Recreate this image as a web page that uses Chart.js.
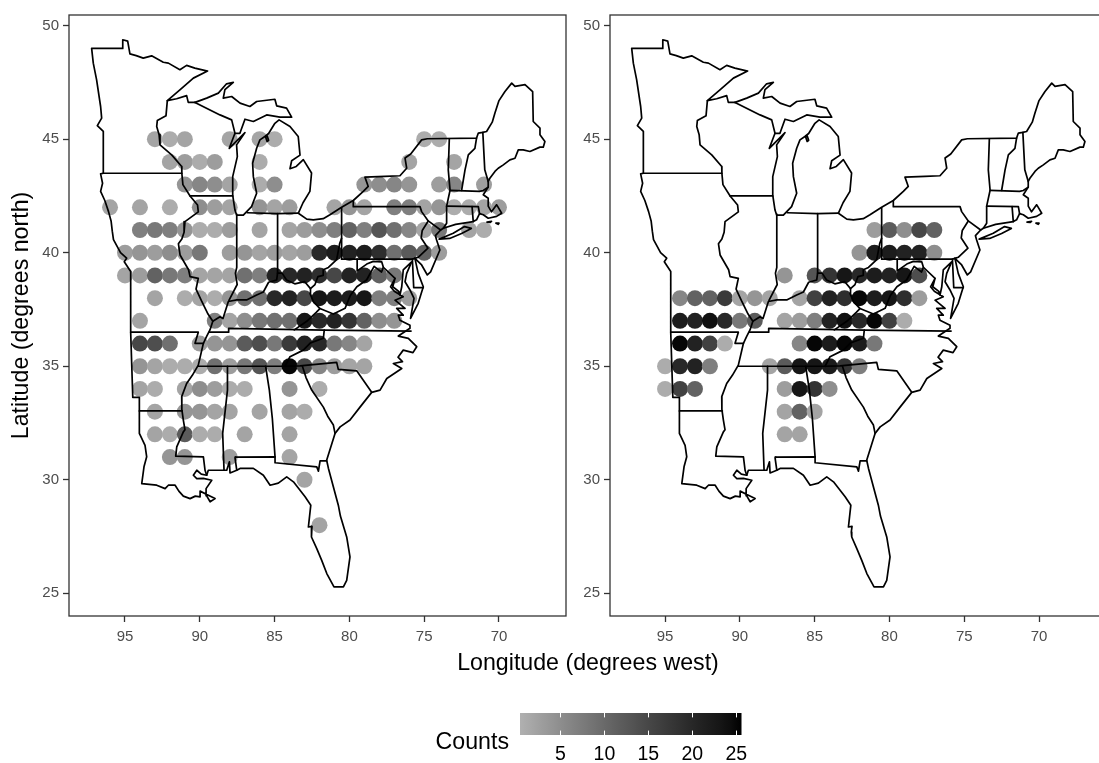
<!DOCTYPE html>
<html><head><meta charset="utf-8">
<script src="https://cdn.jsdelivr.net/npm/chart.js@4/dist/chart.umd.min.js"></script>
<style>
html,body{margin:0;padding:0;background:#fff;width:1099px;height:763px;overflow:hidden;font-family:"Liberation Sans",Arial,sans-serif}
canvas{position:absolute}
.t{position:absolute;color:#000;white-space:nowrap;font-size:23.2px;line-height:26px}
</style></head><body>
<canvas id="cL" style="left:0;top:0"></canvas>
<canvas id="cR" style="left:570px;top:0"></canvas>
<canvas id="cB" style="left:500px;top:700px"></canvas>
<div class="t" style="left:288px;width:600px;text-align:center;top:649px">Longitude (degrees west)</div>
<div class="t" style="left:300px;width:209px;text-align:right;top:728px">Counts</div>
<script>
const xTicks=[95,90,85,80,75,70];
const yTicks=[50,45,40,35,30,25];
const barTicks=[5,10,15,20,25];
const leftPoints=[
[93,45,2],[92,45,1],[91,45,2],[88,45,2],[86,45,2],[85,45,1],[75,45,1],[74,45,1],
[92,44,2],[91,44,3],[90,44,1],[89,44,3],[86,44,1],[76,44,2],[73,44,2],
[91,43,4],[90,43,6],[89,43,5],[88,43,2],[86,43,1],[85,43,5],[79,43,4],[78,43,5],[77,43,6],[76,43,4],[74,43,3],[73,43,6],[71,43,3],
[96,42,2],[94,42,2],[92,42,1],[90,42,5],[89,42,3],[88,42,2],[86,42,4],[85,42,2],[84,42,3],[81,42,2],[80,42,4],[79,42,2],[77,42,7],[76,42,7],[75,42,2],[74,42,4],[73,42,1],[72,42,1],[71,42,2],[70,42,3],
[94,41,7],[93,41,8],[92,41,7],[91,41,4],[90,41,1],[89,41,1],[88,41,3],[86,41,2],[84,41,2],[83,41,3],[82,41,5],[81,41,7],[80,41,11],[79,41,7],[78,41,13],[77,41,9],[76,41,6],[75,41,2],[74,41,8],[72,41,2],[71,41,1],
[95,40,3],[94,40,4],[93,40,3],[92,40,5],[91,40,3],[90,40,8],[88,40,3],[87,40,4],[86,40,2],[85,40,3],[84,40,2],[83,40,3],[82,40,20],[81,40,22],[80,40,21],[79,40,22],[78,40,19],[77,40,9],[76,40,12],[75,40,11],[74,40,3],
[95,39,2],[94,39,3],[93,39,11],[92,39,8],[91,39,7],[90,39,2],[89,39,2],[88,39,2],[87,39,9],[86,39,7],[85,39,21],[84,39,20],[83,39,21],[82,39,19],[81,39,15],[80,39,21],[79,39,21],[78,39,11],[77,39,8],
[93,38,2],[91,38,1],[90,38,2],[89,38,1],[88,38,4],[87,38,9],[86,38,9],[85,38,20],[84,38,21],[83,38,15],[82,38,23],[81,38,22],[80,38,22],[79,38,23],[78,38,7],[77,38,7],[76,38,3],
[94,37,2],[89,37,7],[88,37,2],[87,37,5],[86,37,8],[85,37,9],[84,37,9],[83,37,23],[82,37,20],[81,37,21],[80,37,18],[79,37,11],[78,37,5],[77,37,4],
[94,36,15],[93,36,14],[92,36,9],[90,36,3],[89,36,4],[88,36,4],[87,36,12],[86,36,14],[85,36,8],[84,36,17],[83,36,21],[82,36,20],[81,36,8],[80,36,6],[79,36,2],
[94,35,4],[93,35,2],[92,35,1],[91,35,1],[90,35,1],[89,35,9],[88,35,3],[87,35,8],[86,35,13],[85,35,7],[84,35,25],[83,35,15],[82,35,6],[81,35,3],[80,35,2],[79,35,2],
[94,34,2],[93,34,1],[91,34,2],[90,34,5],[89,34,3],[88,34,1],[87,34,1],[84,34,4],[82,34,1],
[93,33,2],[91,33,4],[90,33,4],[89,33,2],[88,33,2],[86,33,2],[84,33,2],[83,33,1],
[93,32,2],[92,32,1],[91,32,12],[90,32,1],[89,32,1],[87,32,2],[84,32,2],
[92,31,4],[91,31,4],[88,31,3],[84,31,2],[83,30,2],[82,28,2]];
const rightPoints=[
[81,41,3],[80,41,12],[79,41,5],[78,41,15],[77,41,11],
[82,40,4],[81,40,22],[80,40,22],[79,40,21],[78,40,21],[77,40,5],
[87,39,4],[85,39,13],[84,39,18],[83,39,23],[82,39,20],[81,39,22],[80,39,21],[79,39,23],[78,39,14],
[94,38,6],[93,38,11],[92,38,11],[91,38,17],[90,38,2],[89,38,4],[88,38,2],[86,38,2],[85,38,16],[84,38,21],[83,38,19],[82,38,25],[81,38,22],[80,38,23],[79,38,19],[78,38,3],
[94,37,22],[93,37,21],[92,37,24],[91,37,20],[90,37,8],[89,37,12],[87,37,2],[86,37,3],[85,37,7],[84,37,21],[83,37,24],[82,37,20],[81,37,25],[80,37,16],[79,37,1],
[94,36,25],[93,36,21],[92,36,16],[91,36,1],[86,36,6],[85,36,25],[84,36,22],[83,36,25],[82,36,22],[81,36,8],
[95,35,1],[94,35,20],[93,35,21],[92,35,7],[88,35,2],[87,35,12],[86,35,23],[85,35,23],[84,35,22],[83,35,18],[82,35,7],
[95,34,1],[94,34,16],[93,34,11],[87,34,3],[86,34,23],[85,34,18],[84,34,5],
[87,33,2],[86,33,11],[85,33,2],[87,32,2],[86,32,2]];

// state and coast polylines, longitude west / latitude north
const mnBorder=[[96.45,43.5],[96.45,45.34],[96.85,45.6],[96.56,45.93],[96.63,46.44],[96.9,47.62],[97.12,48.35],[97.23,49.0],[95.15,49.0],[95.15,49.38],[94.82,49.32],[94.67,48.76],[94.25,48.68],[93.78,48.57],[93.22,48.67],[92.8,48.52],[92.44,48.39],[92.1,48.35],[91.33,48.06],[90.88,48.25],[90.33,48.13],[89.48,48.0],[90.43,47.69],[91.33,47.17],[92.17,46.7],[91.55,46.78],[90.88,46.92],[90.77,46.62],[90.32,46.62]];
const stCroix=[[92.17,46.7],[92.26,46.03],[92.84,45.82],[92.88,45.56],[92.72,45.2],[92.66,44.75],[91.88,44.31],[91.21,43.8],[91.2,43.5],[91.13,43.0],[90.65,42.5],[90.15,42.1],[90.1,41.8],[90.99,41.37],[91.05,40.9],[91.2,40.6],[91.43,40.4],[91.32,39.9],[90.75,39.25],[90.65,38.95],[90.1,38.87],[90.25,38.4],[89.9,37.9],[89.45,37.3],[89.13,36.98],[89.32,36.6],[89.55,36.3],[89.76,36.01],[90.1,35.05],[90.5,34.6],[90.88,34.24],[91.21,33.66],[91.2,33.1],[91.1,32.63],[90.99,32.2],[91.1,32.11],[91.54,31.45],[91.61,31.04],[89.76,31.01],[89.65,30.42],[89.54,30.2]];
const iaMn=[[96.45,43.5],[91.2,43.5]];
const coastLine=[[96.45,43.5],[96.63,43.47],[96.5,43.06],[96.63,42.7],[96.35,42.3],[96.1,41.81],[95.93,41.4],[95.85,40.95],[95.77,40.58],[95.3,40.0],[94.89,39.76],[95.05,39.6],[94.62,39.17],[94.62,36.5],[94.48,33.63],[94.04,33.63],[94.04,32.04],[93.66,31.52],[93.55,31.01],[93.73,30.57],[93.88,29.83],[92.88,29.76],[92.32,29.61],[92.1,29.76],[91.65,29.76],[91.4,29.5],[91.1,29.28],[90.65,29.17],[90.3,29.28],[89.98,29.25],[89.98,29.5],[89.43,29.32],[88.98,29.17],[89.31,29.03],[89.55,29.3],[89.58,29.61],[89.2,29.98],[89.76,30.06],[90.2,30.05],[90.43,30.2],[90.2,30.42],[89.9,30.25],[89.54,30.2],[89.43,30.42],[88.38,30.42],[88.2,30.42],[88.02,30.79],[87.98,30.3],[87.53,30.42],[87.31,30.5],[86.42,30.5],[85.75,30.2],[85.3,29.76],[84.75,29.85],[84.19,30.13],[83.74,29.91],[82.96,29.25],[82.58,28.88],[82.74,27.92],[82.5,27.95],[82.55,27.7],[82.52,27.48],[82.18,26.97],[81.85,26.45],[81.51,25.87],[81.03,25.28],[80.4,25.28],[80.18,25.57],[79.96,26.6],[80.18,27.48],[80.6,28.4],[80.74,28.88],[81.4,30.5],[81.52,30.86],[80.96,32.04],[80.62,32.33],[79.96,32.63],[79.29,33.2],[78.51,33.85],[77.95,33.95],[77.5,34.46],[76.5,34.9],[77.06,35.12],[76.45,35.2],[76.75,35.4],[76.4,35.71],[75.75,35.6],[75.5,35.86],[76.06,36.23],[76.73,36.33],[75.95,36.67],[75.95,36.81],[76.62,37.03],[76.73,37.25],[76.4,37.25],[76.84,37.55],[76.28,37.55],[76.95,37.91],[76.4,38.06],[77.0,38.3],[77.25,38.5],[76.95,38.87],[77.1,38.5],[76.7,38.3],[76.62,38.13],[76.5,38.5],[76.4,39.24],[75.84,39.6],[76.17,39.09],[76.28,38.72],[75.95,38.36],[75.68,37.99],[75.91,37.11],[75.4,37.77],[75.06,38.5],[75.4,39.09],[75.62,39.75],[75.17,39.46],[74.79,39.02],[74.57,39.16],[73.95,40.12],[74.17,40.56],[74.25,40.75],[73.9,41.0],[73.72,41.08],[72.9,41.25],[71.72,41.37],[71.5,41.45],[71.3,41.72],[71.05,41.67],[70.72,41.52],[70.16,41.6],[69.82,41.74],[70.1,42.05],[70.16,42.11],[70.5,41.8],[70.72,42.05],[70.72,42.4],[71.05,42.55],[70.72,42.89],[70.72,43.14],[70.61,43.28],[70.27,43.58],[70.05,43.72],[69.71,43.87],[69.27,44.09],[68.93,44.16],[68.71,44.53],[68.38,44.53],[67.93,44.46],[67.26,44.65],[67.04,44.65],[66.93,44.9],[67.26,45.2],[67.26,45.49],[67.71,45.78],[67.75,47.1],[68.26,47.4],[68.93,47.33],[69.15,47.47],[69.6,47.1],[70.0,46.7],[70.27,46.15],[70.45,45.75],[70.83,45.34],[71.08,45.3],[71.38,45.27],[71.5,45.05],[74.79,45.02],[75.17,44.97],[75.9,44.35],[76.28,44.17],[76.17,43.72],[76.62,43.39],[77.62,43.36],[78.96,43.33],[78.74,42.92],[79.07,42.7],[79.74,42.3],[80.52,42.0],[81.3,41.67],[81.75,41.5],[82.41,41.45],[82.85,41.48],[83.41,41.74],[83.1,42.2],[82.64,42.7],[82.53,43.51],[83.08,44.1],[83.55,43.8],[83.97,43.7],[83.86,44.05],[83.3,44.3],[83.42,45.12],[83.97,45.56],[84.7,45.85],[84.98,45.7],[85.4,45.25],[85.65,45.12],[85.98,44.97],[86.2,44.6],[86.47,43.94],[86.42,43.35],[86.2,42.62],[86.54,42.03],[87.09,41.66],[87.54,41.66],[87.65,41.88],[87.8,42.54],[87.8,43.35],[87.49,44.23],[87.54,44.75],[86.98,45.29],[88.03,44.6],[87.65,45.26],[87.87,45.85],[88.65,46.07],[90.32,46.62]];
const miUpper=[[90.32,46.62],[89.54,46.81],[88.76,47.03],[88.21,47.44],[87.76,47.5],[88.32,47.18],[88.43,46.81],[87.87,46.88],[87.31,46.59],[86.65,46.44],[86.2,46.66],[84.98,46.76],[84.86,46.47],[84.2,46.37],[83.86,45.97],[84.64,45.97],[85.53,46.07],[86.42,45.78],[86.98,45.88],[87.32,45.26],[87.65,45.26]];
const grandTraverse=[[85.6,45.1],[85.5,44.9],[85.4,44.95],[85.5,45.15],[85.6,45.1]];
const ilWi=[[90.65,42.5],[87.8,42.5]];
const ilIn=[[87.53,41.7],[87.53,39.35],[87.62,39.1],[87.5,38.6],[88.05,37.9]];
const inMi=[[86.82,41.76],[84.8,41.72],[83.41,41.74]];
const inOh=[[84.8,41.72],[84.8,39.1]];
const ohioRiver=[[89.13,36.98],[88.65,37.18],[88.45,37.1],[88.09,37.85],[87.53,37.92],[86.87,37.92],[86.2,38.14],[85.75,38.27],[85.4,38.7],[84.86,38.8],[84.8,39.1],[84.5,39.1],[84.2,38.8],[83.65,38.63],[83.0,38.73],[82.6,38.42],[82.3,38.6],[82.1,38.95],[81.75,39.0],[81.75,39.25],[81.4,39.35],[80.85,39.7],[80.65,40.4],[80.52,40.64]];
const ohPa=[[80.52,41.98],[80.52,39.72]];
const paSouth=[[80.52,39.72],[75.79,39.72],[75.62,39.75]];
const paNy=[[79.74,42.3],[79.74,42.03],[75.28,42.03],[75.17,41.81],[74.73,41.4],[75.13,40.98],[75.2,40.65],[74.75,40.2],[75.4,39.8],[75.62,39.75]];
const nyNj=[[74.73,41.4],[73.9,41.0]];
const deMd=[[75.79,39.72],[75.7,38.46],[75.06,38.46]];
const moAr=[[94.62,36.5],[90.1,36.5],[90.32,36.01],[89.76,36.01]];
const arLa=[[94.04,33.03],[91.17,33.03]];
const tnSouth=[[90.1,35.0],[84.3,35.0],[83.3,35.02],[80.85,35.17],[80.74,34.86],[79.51,34.8],[78.51,33.85]];
const tnNorth=[[89.35,36.5],[88.07,36.5],[88.07,36.67],[81.68,36.59],[75.88,36.55]];
const msAl=[[88.38,30.42],[88.47,32.04],[88.15,33.95],[88.15,35.0]];
const alGa=[[84.97,31.01],[85.08,32.04],[85.15,32.7],[85.35,33.95],[85.6,35.0]];
const alFl=[[87.6,31.0],[87.64,30.94],[87.53,30.42]];
const alFlTop=[[87.6,31.0],[84.97,31.01],[84.97,30.75],[82.18,30.57],[82.07,30.38],[81.96,30.83],[81.52,30.83]];
const gaSc=[[83.15,35.02],[82.9,34.5],[82.52,33.95],[81.74,33.2],[81.45,32.8],[81.07,32.41],[80.96,32.04]];
const tnNc=[[84.3,35.0],[83.97,35.42],[83.08,35.71],[82.6,36.03],[81.74,36.23],[81.68,36.59]];
const kyVa=[[83.68,36.6],[82.85,36.98],[82.2,37.38],[81.97,37.54],[82.41,37.85],[82.63,38.2],[82.6,38.42]];
const vaWv=[[81.97,37.54],[81.07,37.3],[80.29,37.55],[79.95,38.1],[79.5,38.5],[78.85,38.8],[78.35,39.4],[77.85,39.15],[77.73,39.36]];
const potomac=[[79.48,39.72],[79.48,39.2],[78.84,39.5],[78.4,39.62],[77.84,39.6],[77.73,39.36],[76.95,38.87]];
const nyVt=[[73.32,45.02],[73.39,43.65],[73.27,42.75],[73.5,42.05],[73.5,41.3],[73.72,41.08]];
const vtNh=[[71.5,45.05],[71.61,44.6],[72.05,44.31],[72.27,43.65],[72.5,42.74]];
const maNorth=[[73.27,42.75],[71.3,42.7],[71.05,42.74],[70.72,42.89]];
const nhMe=[[71.08,45.3],[70.95,43.65],[70.72,43.14]];
const maSouth=[[73.5,42.05],[71.38,42.03],[71.3,41.72]];
const ctRi=[[71.8,42.03],[71.72,41.37]];
const longIsland=[[74.0,40.6],[73.06,40.86],[72.3,41.15],[71.85,41.07],[72.5,40.85],[73.3,40.63],[74.0,40.6]];
const marthasVineyard=[[70.8,41.35],[70.5,41.38],[70.6,41.33],[70.8,41.35]];
const nantucket=[[70.2,41.3],[70.0,41.3],[70.05,41.25],[70.2,41.3]];
const boundaryLines=[mnBorder,stCroix,iaMn,coastLine,miUpper,grandTraverse,ilWi,ilIn,inMi,inOh,ohioRiver,ohPa,paSouth,paNy,nyNj,deMd,moAr,arLa,tnSouth,tnNorth,msAl,alGa,alFl,alFlTop,gaSc,tnNc,kyVa,vaWv,potomac,nyVt,vtNh,maNorth,nhMe,maSouth,ctRi,longIsland,marthasVineyard,nantucket];

const LMIN=0.4,LMAX=25.6;
function countColor(c){
  const t=Math.min(1,Math.max(0,(c-LMIN)/(LMAX-LMIN)));
  const L=72*(1-t);
  const y=L>8?Math.pow((L+16)/116,3):L/903.3;
  const s=y<=0.0031308?12.92*y:1.055*Math.pow(y,1/2.4)-0.055;
  const v=Math.round(255*s);
  return `rgb(${v},${v},${v})`;
}
const panelFrame={id:'panelFrame',afterDraw(ch){
  const a=ch.chartArea,c=ch.ctx;c.save();c.strokeStyle='#333';c.lineWidth=1.3;
  c.strokeRect(a.left,a.top,a.right-a.left+(ch.canvas.id==='cR'?20:0),a.bottom-a.top);c.restore();}};
function panel(id,points,xMin,xMax,w,leftW,rightPad,yTitle){
  const ds=boundaryLines.map(line=>({type:'scatter',showLine:true,fill:false,data:line.map(p=>({x:p[0],y:p[1]})),
    borderColor:'#000',borderWidth:1.7,pointRadius:0,pointHoverRadius:0,tension:0,order:0,borderJoinStyle:'round',borderCapStyle:'round'}));
  ds.push({type:'scatter',order:1,data:points.map(p=>({x:p[0],y:p[1]})),
    backgroundColor:points.map(p=>countColor(p[2])),borderWidth:0,pointRadius:8,pointBorderWidth:0,pointHoverRadius:8});
  const el=document.getElementById(id);el.width=w;el.height=660;el.style.width=w+'px';el.style.height='660px';
  const tick={color:'#4d4d4d',font:{family:'"Liberation Sans"',size:15},maxRotation:0,autoSkip:false};
  return new Chart(el,{type:'scatter',data:{datasets:ds},plugins:[panelFrame],options:{
    responsive:false,animation:false,events:[],
    layout:{padding:{top:15,left:0,right:rightPad,bottom:0}},
    plugins:{legend:{display:false},tooltip:{enabled:false}},
    scales:{
      x:{type:'linear',reverse:true,min:xMin,max:xMax,
        afterBuildTicks:a=>{a.ticks=xTicks.map(v=>({value:v}));},
        afterFit:a=>{a.height=44;},
        border:{display:false},
        grid:{display:true,drawOnChartArea:false,drawTicks:true,tickLength:6,tickColor:'#333',tickWidth:1.3},
        ticks:{...tick,padding:6}},
      y:{type:'linear',min:24,max:50.47,
        afterBuildTicks:a=>{a.ticks=yTicks.map(v=>({value:v}));},
        afterFit:a=>{a.width=leftW;},
        border:{display:false},
        grid:{display:true,drawOnChartArea:false,drawTicks:true,tickLength:6,tickColor:'#333',tickWidth:1.3},
        title:{display:!!yTitle,text:yTitle||'',color:'#000',font:{family:'"Liberation Sans"',size:23.2},padding:{top:8,bottom:0}},
        ticks:{...tick,padding:4}}
    }}});
}
panel('cL',leftPoints,65.52,98.743,574,69,0,'Latitude (degrees north)');
panel('cR',rightPoints,65.99,98.68,537,40,0,null);

// colour bar
const barPaint={id:'barPaint',beforeDatasetsDraw(ch){
  const a=ch.chartArea,c=ch.ctx,x=ch.scales.x;
  const g=c.createLinearGradient(a.left,0,a.right,0);
  for(let i=0;i<=20;i++){g.addColorStop(i/20,countColor(LMIN+(LMAX-LMIN)*i/20));}
  c.save();c.fillStyle=g;c.fillRect(a.left,a.top,a.right-a.left,a.bottom-a.top);
  c.strokeStyle='#fff';c.lineWidth=1;
  barTicks.forEach(v=>{const p=Math.round(x.getPixelForValue(v))+0.5;
    c.beginPath();c.moveTo(p,a.top);c.lineTo(p,a.top+4.4);c.moveTo(p,a.bottom-4.4);c.lineTo(p,a.bottom);c.stroke();});
  c.restore();}};
const cb=document.getElementById('cB');cb.width=262;cb.height=63;cb.style.width='262px';cb.style.height='63px';
new Chart(cb,{type:'scatter',data:{datasets:[{data:[],pointRadius:0}]},plugins:[barPaint],options:{
  responsive:false,animation:false,events:[],
  layout:{padding:{top:13,left:20,right:20.5,bottom:0}},
  plugins:{legend:{display:false},tooltip:{enabled:false}},
  scales:{
    x:{type:'linear',min:LMIN,max:LMAX,afterBuildTicks:a=>{a.ticks=barTicks.map(v=>({value:v}));},
      afterFit:a=>{a.height=28;},border:{display:false},
      grid:{display:true,drawOnChartArea:false,drawTicks:false},
      ticks:{color:'#000',padding:8,maxRotation:0,autoSkip:false,font:{family:'"Liberation Sans"',size:19.5}}},
    y:{display:false,min:0,max:1}
  }}});
</script>
</body></html>
